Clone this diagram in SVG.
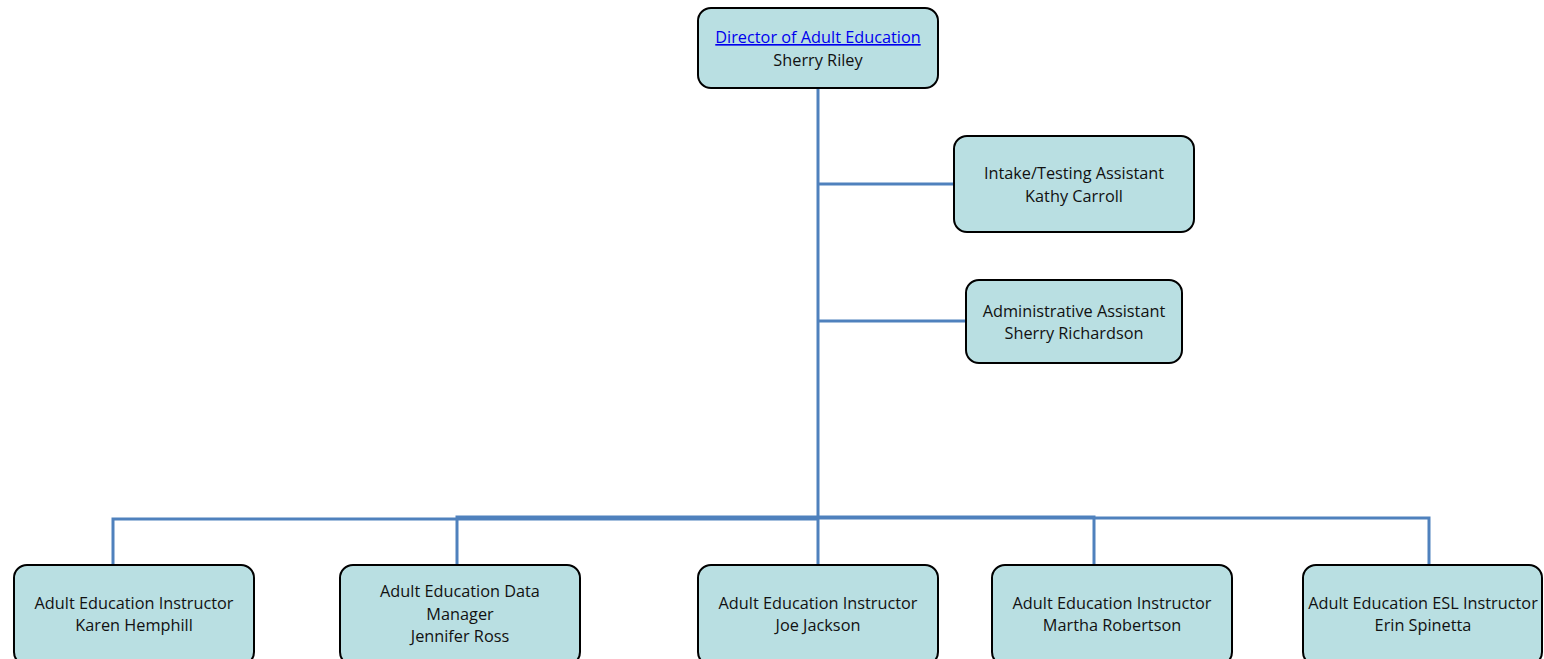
<svg xmlns="http://www.w3.org/2000/svg" width="1544" height="659" viewBox="0 0 1544 659">
  <style>
    .box { fill: #b9dfe2; stroke: #000; stroke-width: 2; }
    .lbl { font-family: "Open Sans", "Liberation Sans", Arial, sans-serif; font-size: 16.3px; fill: #111; text-anchor: middle; }
    .link { fill: #0000ee; text-decoration: underline; }
    .conn { fill: none; stroke: #4f81bd; stroke-width: 3; }
  </style>
  <rect width="1544" height="659" fill="#fff"/>

  <g id="connectors">
    <path class="conn" d="M818 88 V565"/>
    <path class="conn" d="M818 184 H954"/>
    <path class="conn" d="M818 321 H966"/>
    <path class="conn" d="M818 519 H113 V572"/>
    <path class="conn" d="M818 517 H457 V568"/>
    <path class="conn" d="M818 517 H1094 V565"/>
    <path class="conn" d="M818 518 H1429 V565"/>
  </g>

  <g id="director">
    <rect class="box" x="698" y="8" width="240" height="80" rx="13"/>
    <text class="lbl link" x="818" y="43">Director of Adult Education</text>
    <text class="lbl" x="818" y="66">Sherry Riley</text>
  </g>

  <g id="intake">
    <rect class="box" x="954" y="136" width="240" height="96" rx="13"/>
    <text class="lbl" x="1074" y="179">Intake/Testing Assistant</text>
    <text class="lbl" x="1074" y="202">Kathy Carroll</text>
  </g>

  <g id="admin">
    <rect class="box" x="966" y="280" width="216" height="83" rx="13"/>
    <text class="lbl" x="1074" y="317">Administrative Assistant</text>
    <text class="lbl" x="1074" y="339">Sherry Richardson</text>
  </g>

  <g id="hemphill">
    <rect class="box" x="14" y="565" width="240" height="100" rx="13"/>
    <text class="lbl" x="134" y="609">Adult Education Instructor</text>
    <text class="lbl" x="134" y="631">Karen Hemphill</text>
  </g>

  <g id="ross">
    <rect class="box" x="340" y="565" width="240" height="100" rx="13"/>
    <text class="lbl" x="460" y="597">Adult Education Data</text>
    <text class="lbl" x="460" y="620">Manager</text>
    <text class="lbl" x="460" y="642">Jennifer Ross</text>
  </g>

  <g id="jackson">
    <rect class="box" x="698" y="565" width="240" height="100" rx="13"/>
    <text class="lbl" x="818" y="609">Adult Education Instructor</text>
    <text class="lbl" x="818" y="631">Joe Jackson</text>
  </g>

  <g id="robertson">
    <rect class="box" x="992" y="565" width="240" height="100" rx="13"/>
    <text class="lbl" x="1112" y="609">Adult Education Instructor</text>
    <text class="lbl" x="1112" y="631">Martha Robertson</text>
  </g>

  <g id="spinetta">
    <rect class="box" x="1303" y="565" width="239" height="100" rx="13"/>
    <text class="lbl" x="1423" y="609">Adult Education ESL Instructor</text>
    <text class="lbl" x="1423" y="631">Erin Spinetta</text>
  </g>
</svg>
